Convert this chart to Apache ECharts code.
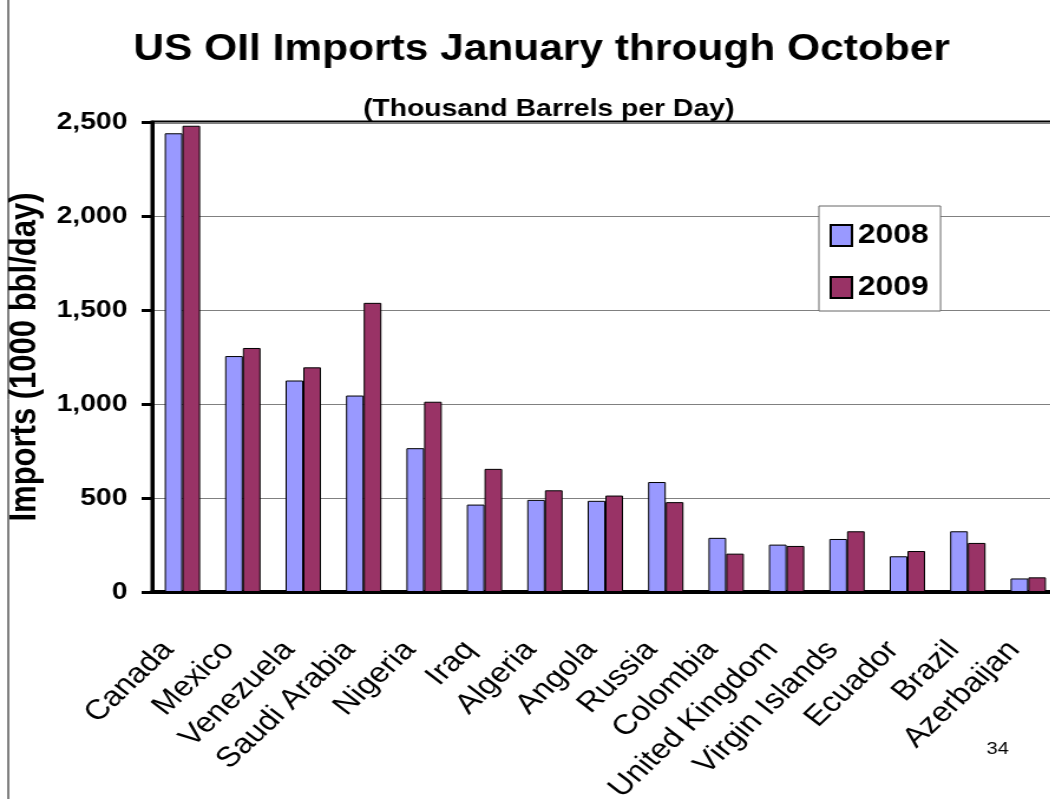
<!DOCTYPE html>
<html>
<head>
<meta charset="utf-8">
<title>US Oil Imports</title>
<script src="https://cdn.jsdelivr.net/npm/echarts@6/dist/echarts.min.js"></script>
<style>
    html, body { margin: 0; padding: 0; background: #fff; overflow: hidden; }
    /* the slide is stretched sideways, so draw narrower and scale it out */
    #chart { width: 890px; height: 799px; transform: scaleX(1.18); transform-origin: 0 0; }
</style>
</head>
<body>
<div id="chart"></div>
<script>
const countries = ['Canada', 'Mexico', 'Venezuela', 'Saudi Arabia', 'Nigeria', 'Iraq', 'Algeria', 'Angola',
    'Russia', 'Colombia', 'United Kingdom', 'Virgin Islands', 'Ecuador', 'Brazil', 'Azerbaijan'];
const imports2008 = [2440, 1255, 1125, 1045, 765, 465, 490, 485, 585, 288, 252, 282, 190, 323, 72];
const imports2009 = [2480, 1298, 1195, 1538, 1012, 655, 541, 513, 478, 204, 245, 323, 218, 261, 78];
const yTicks = [0, 500, 1000, 1500, 2000, 2500];

const font = "'Liberation Sans', Arial, sans-serif";
const chart = echarts.init(document.getElementById('chart'));

const barStyle = function (color) {
    return { color: color, borderColor: '#000', borderWidth: 1 };
};

chart.setOption({
    textStyle: { fontFamily: font },
    title: [
        {
            text: 'US OIl Imports January through October',
            left: 454, top: 27, textAlign: 'center',
            textStyle: { fontSize: 36, fontWeight: 'bold', color: '#000', fontFamily: font }
        },
        {
            text: '(Thousand Barrels per Day)',
            left: 460, top: 92, textAlign: 'center',
            textStyle: { fontSize: 24, fontWeight: 'bold', color: '#000', fontFamily: font }
        }
    ],
    legend: {
        orient: 'vertical',
        left: 694, top: 206,
        padding: [16, 10, 10, 9],
        icon: 'rect',
        itemWidth: 18, itemHeight: 21, itemGap: 25,
        backgroundColor: '#fff',
        borderColor: '#666', borderWidth: 1,
        textStyle: { fontSize: 27, fontWeight: 'bold', color: '#000', lineHeight: 21, fontFamily: font }
    },
    grid: {
        left: 129, top: 122, width: 768, height: 470,
        outerBoundsMode: 'none',
        show: true, borderColor: '#000', borderWidth: 3
    },
    xAxis: {
        type: 'category',
        data: countries,
        axisLine: { lineStyle: { color: '#000', width: 4 } },
        axisTick: { show: false },
        axisLabel: {
            rotate: 48, interval: 0, margin: 40, padding: [0, 18, 0, 0],
            fontSize: 28, color: '#000', fontFamily: font
        }
    },
    yAxis: {
        type: 'value',
        min: yTicks[0], max: yTicks[yTicks.length - 1], interval: 500,
        name: 'Imports (1000 bbl/day)',
        nameLocation: 'middle', nameRotate: 90, nameGap: 92,
        nameTextStyle: { fontSize: 31, fontWeight: 'bold', color: '#000', fontFamily: font },
        axisLine: { show: true, lineStyle: { color: '#000', width: 3 } },
        axisTick: { show: true, length: 9, lineStyle: { color: '#000', width: 3 } },
        axisLabel: {
            margin: 21, fontSize: 24, fontWeight: 'bold', color: '#000', fontFamily: font,
            formatter: function (v) { return v.toLocaleString('en-US'); }
        },
        splitLine: { lineStyle: { color: '#808080', width: 1 } }
    },
    series: [
        { name: '2008', type: 'bar', data: imports2008, barWidth: 15, barGap: '0%', itemStyle: barStyle('#9999FF') },
        { name: '2009', type: 'bar', data: imports2009, barWidth: 15, barGap: '0%', itemStyle: barStyle('#993366') }
    ],
    graphic: [
        { type: 'line', shape: { x1: 7, y1: 0, x2: 7, y2: 799 }, style: { stroke: '#000', lineWidth: 1 } },
        { type: 'text', left: 836, top: 741, style: { text: '34', fontSize: 17, fill: '#000', fontFamily: font } }
    ]
});
</script>
</body>
</html>
